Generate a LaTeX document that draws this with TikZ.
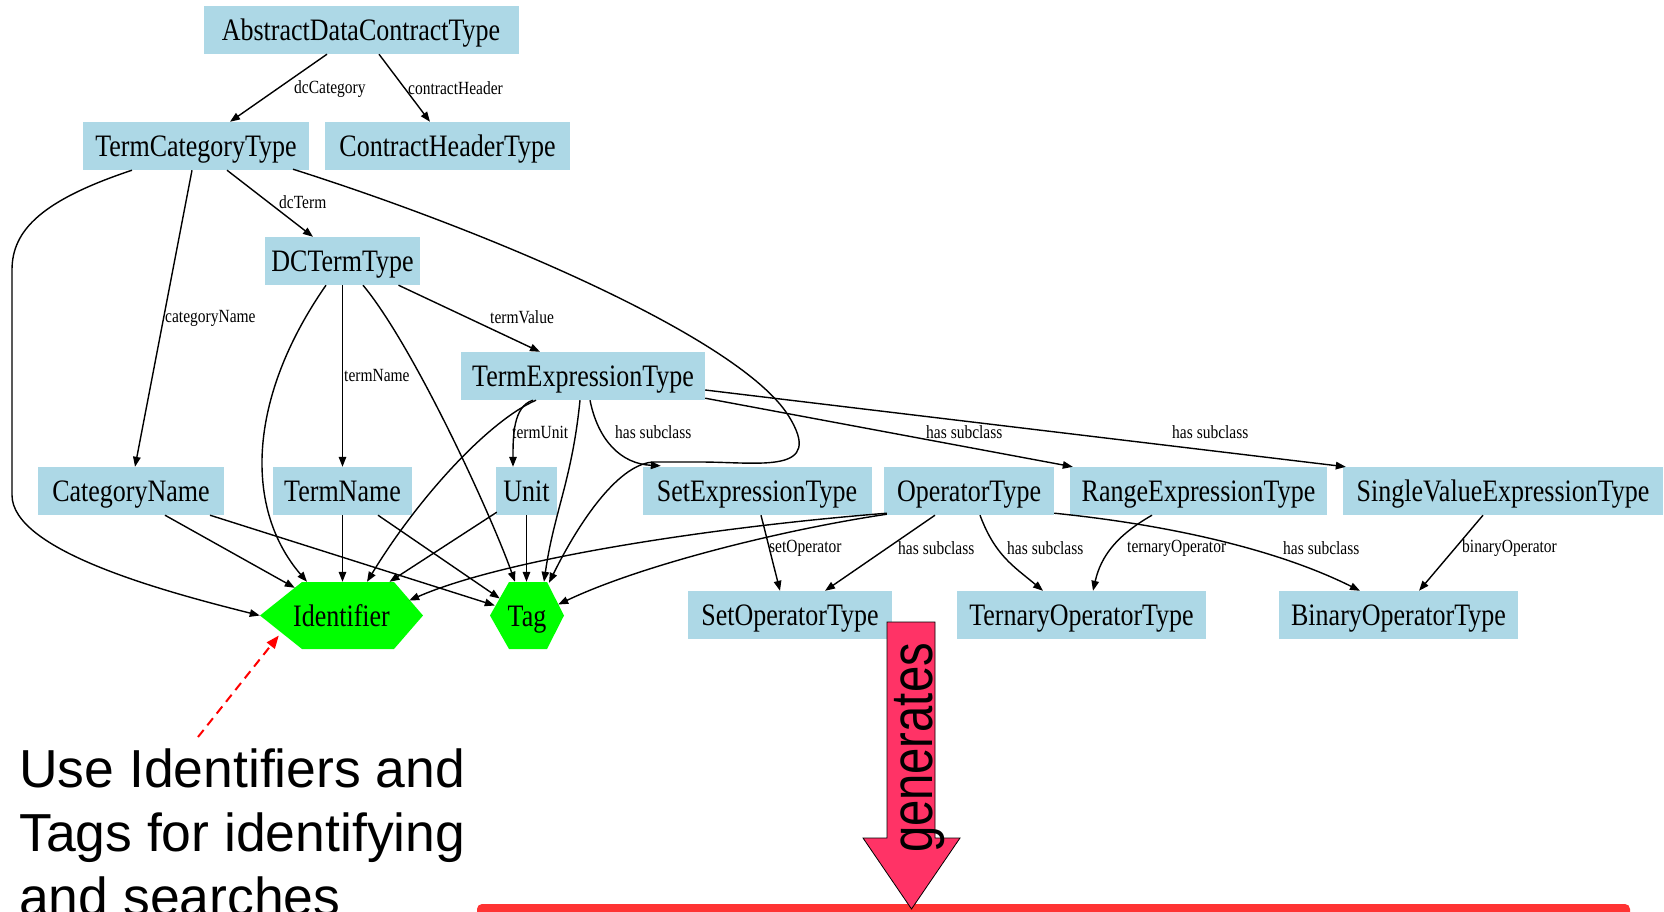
\documentclass[tikz,border=0pt]{standalone}
\usepackage{graphicx}
\usepackage{fontspec}
\setmainfont{Liberation Serif}
\newfontfamily\notefont{Liberation Sans}
\usetikzlibrary{arrows.meta,calc}

\definecolor{boxblue}{HTML}{ADD8E6}
\definecolor{hexgreen}{HTML}{00FF00}
\definecolor{genpink}{HTML}{FF3366}
\definecolor{barred}{HTML}{FF3333}

% tall, narrow serif lettering used in the type graph
\newcommand{\tallserif}[1]{\scalebox{1}[1.2]{#1}}

\tikzset{
  typebox/.style={fill=boxblue, inner sep=0pt, minimum height=48pt,
    text height=21pt, text depth=0pt,
    font=\fontsize{26}{26}\selectfont},
  hexbox/.style={inner sep=0pt, minimum height=67pt,
    text height=21pt, text depth=0pt,
    font=\fontsize{26}{26}\selectfont},
  edge/.style={draw=black, line width=1.4pt, -{Triangle[length=10pt,width=7.5pt]}},
  elabel/.style={anchor=west, inner sep=0pt, font=\fontsize{15.5}{15.5}\selectfont},
}

\begin{document}
\begin{tikzpicture}[x=1pt,y=-1pt]
\useasboundingbox (0,0) rectangle (1664,911);
\clip (0,0) rectangle (1664,911);

% ---------- type nodes ----------
\node[typebox, minimum width=315pt] (adct) at (361,30)    {\tallserif{AbstractDataContractType}};
\node[typebox, minimum width=226pt] (tct)  at (196,146)   {\tallserif{TermCategoryType}};
\node[typebox, minimum width=245pt] (cht)  at (447.5,146) {\tallserif{ContractHeaderType}};
\node[typebox, minimum width=155pt] (dct)  at (342.5,261) {\tallserif{DCTermType}};
\node[typebox, minimum width=244pt] (tet)  at (583,376)   {\tallserif{TermExpressionType}};
\node[typebox, minimum width=186pt] (cn)   at (131,491)   {\tallserif{CategoryName}};
\node[typebox, minimum width=139pt] (tn)   at (342.5,491) {\tallserif{TermName}};
\node[typebox, minimum width=61pt]  (unit) at (526.5,491) {\tallserif{Unit}};
\node[typebox, minimum width=229pt] (set)  at (757,491)   {\tallserif{SetExpressionType}};
\node[typebox, minimum width=170pt] (op)   at (969,491)   {\tallserif{OperatorType}};
\node[typebox, minimum width=257pt] (rng)  at (1198.5,491){\tallserif{RangeExpressionType}};
\node[typebox, minimum width=320pt] (sv)   at (1503,491)  {\tallserif{SingleValueExpressionType}};
\node[typebox, minimum width=204pt] (sop)  at (790,615)   {\tallserif{SetOperatorType}};
\node[typebox, minimum width=249pt] (ter)  at (1081.5,615){\tallserif{TernaryOperatorType}};
\node[typebox, minimum width=239pt] (bin)  at (1398.5,615){\tallserif{BinaryOperatorType}};

% ---------- hexagon nodes ----------
\node[hexbox, minimum width=163pt,
  path picture={\fill[hexgreen]
    (path picture bounding box.west)
    -- ([xshift=42pt]path picture bounding box.north west)
    -- ([xshift=-29pt]path picture bounding box.north east)
    -- (path picture bounding box.east)
    -- ([xshift=-29pt]path picture bounding box.south east)
    -- ([xshift=42pt]path picture bounding box.south west) -- cycle;}]
  (id) at (341.5,615.5) {\tallserif{Identifier}};
\node[hexbox, minimum width=74pt,
  path picture={\fill[hexgreen]
    (path picture bounding box.west)
    -- ([xshift=19pt]path picture bounding box.north west)
    -- ([xshift=-17pt]path picture bounding box.north east)
    -- (path picture bounding box.east)
    -- ([xshift=-17pt]path picture bounding box.south east)
    -- ([xshift=19pt]path picture bounding box.south west) -- cycle;}]
  (tag) at (527,615.5) {\tallserif{Tag}};

% ---------- connectors ----------
\draw[edge] ($(adct.south)+(-34,0)$) -- ($(tct.north)+(34,0)$);
\draw[edge] ($(adct.south)+(18,0)$) -- ($(cht.north)+(-17.5,0)$);
\draw[edge] ($(tct.south)+(31,0)$) -- ($(dct.north)+(-29.5,0)$);
\draw[edge] ($(tct.south)+(-4,0)$) -- ($(cn.north)+(4,0)$);
\draw[edge] ($(tct.south)+(-64,0)$) .. controls +(-90,30) and +(0,-40) .. (12,270)
  -- (12,495) .. controls +(0,55) and +(-100,-25) .. (id.west);
\draw[edge] ($(tct.south)+(97,-1)$) .. controls (500,235) and (740,340) .. (788,415)
  .. controls (826,475) and (760,462) .. (700,462) -- (655,462)
  .. controls (620,462) and (580,520) .. ($(tag.north)+(22,1)$);
\draw[edge] ($(dct.south)+(56,0)$) -- ($(tet.north)+(-43,0)$);
\draw[edge] (dct.south) -- (tn.north);
\draw[edge] ($(dct.south)+(-16.5,0)$) .. controls +(-80,115) and +(-62,-72) .. ($(id.north)+(-34.5,0)$);
\draw[edge] ($(dct.south)+(20.5,0)$) .. controls +(50,60) and +(-25,-70) .. ($(tag.north)+(-12,0)$);
\draw[edge] ($(tet.south)+(-50,0)$) .. controls +(-20,6) and +(0,-30) .. ($(unit.north)+(-13.5,0)$);
\draw[edge] ($(tet.south)+(-47,0)$) .. controls +(-46,20) and +(53,-87) .. ($(id.north)+(25.5,0)$);
\draw[edge] ($(tet.south)+(-3,0)$) .. controls +(-8,80) and +(10,-70) .. ($(tag.north)+(17,0)$);
\draw[edge] ($(tet.south)+(7,0)$) .. controls +(8,40) and +(-40,-2) .. ($(set.north west)+(18.5,-1)$);
\draw[edge] ($(tet.south east)+(0,-2)$) -- ($(rng.north west)+(3,0)$);
\draw[edge] ($(tet.east)+(0,14)$) -- ($(sv.north west)+(3,0)$);
\draw[edge] ($(cn.south)+(34,0)$) -- ($(id.north west)+(35,6)$);
\draw[edge] ($(cn.south)+(79,0)$) -- ($(tag.west)+(5,-10)$);
\draw[edge] (tn.south) -- (tn.south |- id.north);
\draw[edge] ($(tn.south)+(35.5,0)$) -- ($(tag.west)+(10,-17)$);
\draw[edge] ($(unit.south west)+(1,-3)$) -- ($(id.north)+(48,0)$);
\draw[edge] (unit.south) -- (unit.south |- tag.north);
\draw[edge] ($(op.south west)+(3,-2)$) .. controls +(-187,15) and +(91,-40) .. ($(id.east)+(-14,-15)$);
\draw[edge] ($(op.south west)+(3,-1)$) .. controls +(-107,16) and +(82,-39) .. ($(tag.east)+(-6,-11)$);
\draw[edge] ($(op.south)+(-34,0)$) -- ($(sop.north)+(35,0)$);
\draw[edge] ($(op.south)+(11,0)$) .. controls +(15,40) and +(-30,-25) .. ($(ter.north)+(-38.5,0)$);
\draw[edge] ($(op.south east)+(0,-2)$) .. controls +(100,10) and +(-90,-45) .. ($(bin.north)+(-38.5,0)$);
\draw[edge] ($(rng.south)+(-46.5,0)$) .. controls +(-35,20) and +(8,-35) .. ($(ter.north)+(11.5,0)$);
\draw[edge] ($(set.south)+(4,0)$) -- ($(sop.north)+(-10,0)$);
\draw[edge] ($(sv.south)+(-20,0)$) -- ($(bin.north)+(20.5,0)$);

% ---------- connector labels ----------
\node[elabel] (l1)  at (294,89)   {\tallserif{dcCategory}};
\node[elabel] (l2)  at (408,88)   {\tallserif{contractHeader}};
\node[elabel] (l3)  at (279,202)  {\tallserif{dcTerm}};
\node[elabel] (l4)  at (165,318)  {\tallserif{categoryName}};
\node[elabel] (l5)  at (344,375)  {\tallserif{termName}};
\node[elabel] (l6)  at (490,317)  {\tallserif{termValue}};
\node[elabel] (l7)  at (512,432)  {\tallserif{termUnit}};
\node[elabel] (l8)  at (615,432)  {\tallserif{has subclass}};
\node[elabel] (l9)  at (926,432)  {\tallserif{has subclass}};
\node[elabel] (l10) at (1172,432) {\tallserif{has subclass}};
\node[elabel] (l11) at (769,548)  {\tallserif{setOperator}};
\node[elabel] (l12) at (898,548)  {\tallserif{has subclass}};
\node[elabel] (l13) at (1007,548) {\tallserif{has subclass}};
\node[elabel] (l14) at (1127,548) {\tallserif{ternaryOperator}};
\node[elabel] (l15) at (1283,548) {\tallserif{has subclass}};
\node[elabel] (l16) at (1462,548) {\tallserif{binaryOperator}};

% ---------- note with pointer ----------
\node[anchor=north west, inner sep=0pt, align=left,
  font={\notefont\fontsize{53.5}{64}\selectfont}] (note) at (19,749)
  {Use Identifiers and\\Tags for identifying\\and searches};
\coordinate (cue) at (198,737);
\draw[red, line width=2pt, dash pattern=on 9pt off 6pt,
  -{Triangle[length=13pt,width=10pt]}] (cue) -- ($(id.west)+(19,20)$);

% ---------- generation bar and block arrow ----------
\fill[barred, rounded corners=5pt] (477,904) rectangle (1630,940);
\filldraw[fill=genpink, draw=black, line width=0.8pt]
  (887,622) -- (935,622) -- (935,838) -- (960,838) -- (911.5,909)
  -- (863,838) -- (887,838) -- cycle;
\node[rotate=90, anchor=base, inner sep=0pt] (gen) at (932,748)
  {\scalebox{0.8}[1]{\notefont\fontsize{59}{59}\selectfont generates}};
\end{tikzpicture}
\end{document}
